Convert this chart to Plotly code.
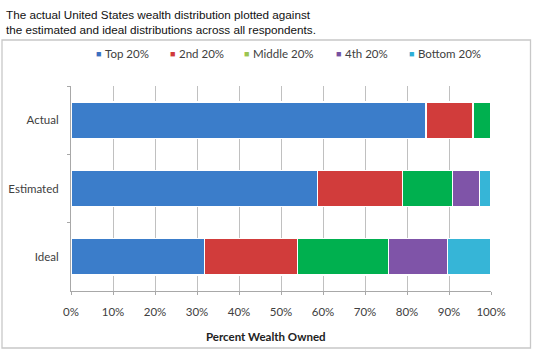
import plotly.graph_objects as go

categories = ["Actual", "Estimated", "Ideal"]
series_names = ["Top 20%", "2nd 20%", "Middle 20%", "4th 20%", "Bottom 20%"]
top20 = [84.5, 58.6, 31.8]
second20 = [11.2, 20.3, 22.2]
middle20 = [4.1, 11.9, 21.6]
fourth20 = [0.2, 6.4, 14.1]
bottom20 = [0.1, 2.8, 10.3]
colors = ["#3b7dca", "#d13c3b", "#00b04f", "#7f54a8", "#36b5d7"]
legend_colors = ["#3b6fc0", "#d03a3a", "#9bc450", "#7650a0", "#2eaed6"]
tick_vals = [0, 10, 20, 30, 40, 50, 60, 70, 80, 90, 100]
tick_text = [f"{v}%" for v in tick_vals]

W, H = 533, 350
L, R, T, B = 71, 491, 86, 291

fig = go.Figure()
for name, vals, col in zip(series_names, [top20, second20, middle20, fourth20, bottom20], colors):
    fig.add_trace(go.Bar(
        y=categories, x=vals, name=name, orientation="h", showlegend=False,
        marker=dict(color=col, line=dict(color="white", width=1.2)),
    ))

def px2x(px):
    return (px - L) / (R - L)

def px2y(py):
    return (B - py) / (B - T)

annotations = [
    dict(text="The actual United States wealth distribution plotted against<br>the estimated and ideal distributions across all respondents.",
         xref="paper", yref="paper", x=px2x(4), y=px2y(6), xanchor="left", yanchor="top",
         align="left", showarrow=False,
         font=dict(family="Liberation Sans, Arial, sans-serif", size=11.7, color="#111111")),
    dict(text="<b>Percent Wealth Owned</b>", xref="paper", yref="paper",
         x=px2x(266), y=px2y(336), xanchor="center", yanchor="middle", showarrow=False,
         font=dict(size=11.5, color="#222222")),
]

# legend built from series names and colours
legend_x = [94, 168, 242, 334, 407]
for name, lc, lx in zip(series_names, legend_colors, legend_x):
    annotations.append(dict(text="■", xref="paper", yref="paper", x=px2x(lx), y=px2y(53.5),
                            xanchor="left", yanchor="middle", showarrow=False,
                            font=dict(size=9, color=lc)))
    annotations.append(dict(text=name, xref="paper", yref="paper", x=px2x(lx + 9), y=px2y(53),
                            xanchor="left", yanchor="middle", showarrow=False,
                            font=dict(size=11.5, color="#404040")))

fig.update_layout(
    width=W, height=H,
    margin=dict(l=L, r=W - R, t=T, b=H - B),
    barmode="stack", bargap=0.47,
    plot_bgcolor="white", paper_bgcolor="white",
    font=dict(family="Lato, Noto Sans, sans-serif", size=11, color="#404040"),
    showlegend=False,
    xaxis=dict(range=[0, 100], tickvals=tick_vals, ticktext=tick_text,
               showgrid=True, gridcolor="#c0c0c0", gridwidth=1,
               showline=True, linecolor="#a8a8a8", linewidth=1,
               ticks="outside", ticklen=3, tickcolor="#a8a8a8",
               zeroline=False, fixedrange=True, ticklabelstandoff=7, automargin=False,
               tickfont=dict(size=11.5, color="#404040")),
    yaxis=dict(autorange="reversed", showline=True, linecolor="#a8a8a8", linewidth=1,
               ticks="outside", tickson="boundaries", ticklen=3, tickcolor="#a8a8a8",
               showgrid=False, tickfont=dict(size=11.5, color="#404040"),
               ticklabelstandoff=9, automargin=False),
    annotations=annotations,
    shapes=[
        dict(type="rect", xref="paper", yref="paper", x0=px2x(2), x1=px2x(530.5),
             y0=px2y(348), y1=px2y(40), line=dict(color="#c8c8c8", width=1.3), layer="below"),
    ],
)

fig.write_html("out.html")
